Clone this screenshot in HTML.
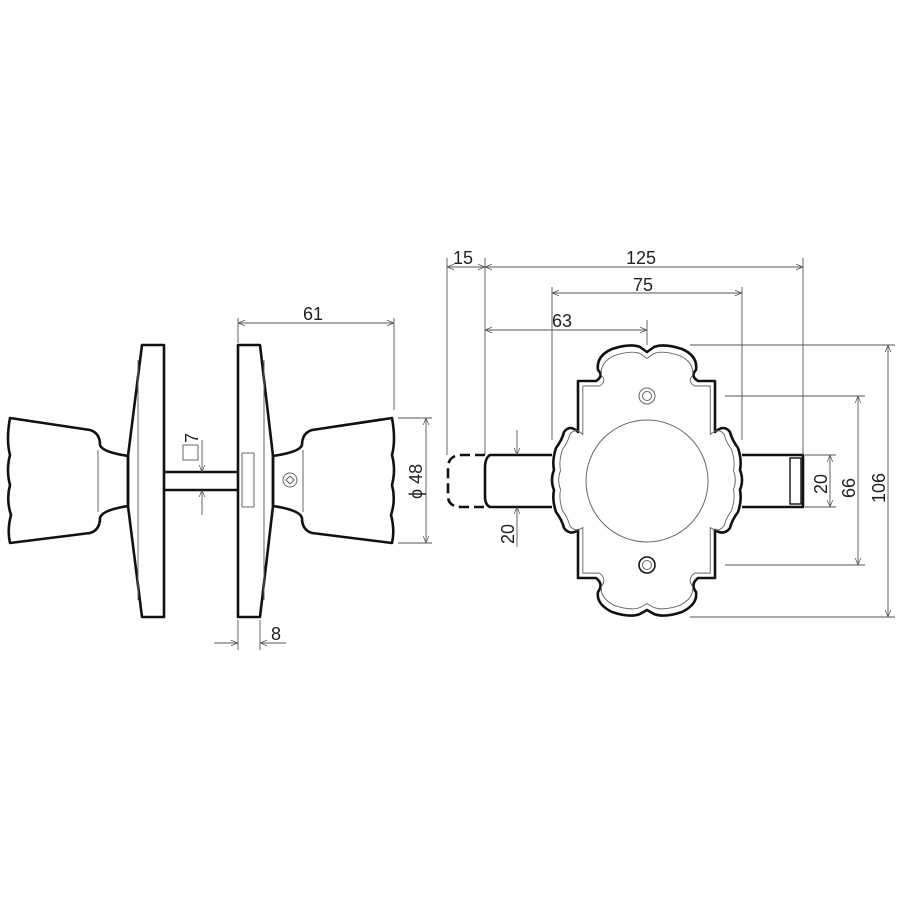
<!DOCTYPE html>
<html><head><style>html,body{margin:0;padding:0;background:#fff}svg{display:block}</style></head><body>
<svg width="900" height="900" viewBox="0 0 900 900" xmlns="http://www.w3.org/2000/svg" font-family="Liberation Sans, sans-serif">
<defs>
<marker id="a" viewBox="0 0 10 10" refX="10" refY="5" markerWidth="8" markerHeight="8" orient="auto-start-reverse"><path d="M0,1 L10,5 L0,9" fill="none" stroke="#555" stroke-width="1"/></marker>
</defs>
<rect width="900" height="900" fill="#fff"/>
<g fill="none" stroke="#111" stroke-width="2.6" stroke-linejoin="round">
  <path d="M10,418 L90,430 Q100,433 100,445 Q102,452 128,456 L128,506 Q102,510 100,518 Q100,530 90,533 L10,543 Q7,530 11,515 Q6,500 10,485 Q6,470 10,455 Q6,440 10,418 Z"/>
  <path d="M142,345 L164,345 L164,617 L142,617 L128,506 L128,456 Z"/>
  <path d="M238,345 L260,345 L273,456 L273,506 L260,617 L238,617 Z"/>
  <path d="M392,418 L312,430 Q302,433 302,445 Q300,452 273,456 L273,506 Q300,510 302,518 Q302,530 312,533 L392,543 Q395,530 391,515 Q396,500 392,485 Q396,470 392,455 Q396,440 392,418 Z"/>
  <path d="M164,472 L238,472 M164,490 L238,490"/>
</g>
<g fill="none" stroke="#666" stroke-width="1">
  <line x1="138" y1="360" x2="138" y2="600"/>
  <line x1="98" y1="450" x2="98" y2="512"/>
  <line x1="264" y1="360" x2="264" y2="600"/>
  <line x1="303" y1="450" x2="303" y2="512"/>
  <rect x="242" y="453" width="12" height="54"/>
  <circle cx="290" cy="480" r="7"/>
  <path d="M290,476 L294,480 L290,484 L286,480 Z"/>
  <rect x="183" y="445" width="15" height="15"/>
</g>
<g stroke="#555" stroke-width="0.9" fill="none">
  <line x1="238" y1="343" x2="238" y2="318"/>
  <line x1="394" y1="410" x2="394" y2="318"/>
  <line x1="238" y1="323" x2="394" y2="323" marker-start="url(#a)" marker-end="url(#a)"/>
  <line x1="398" y1="418" x2="432" y2="418"/>
  <line x1="398" y1="543" x2="432" y2="543"/>
  <line x1="426" y1="418" x2="426" y2="543" marker-start="url(#a)" marker-end="url(#a)"/>
  <line x1="202" y1="440" x2="202" y2="472" marker-end="url(#a)"/>
  <line x1="202" y1="515" x2="202" y2="490" marker-end="url(#a)"/>
  <line x1="238" y1="620" x2="238" y2="650"/>
  <line x1="260" y1="620" x2="260" y2="650"/>
  <line x1="214" y1="643" x2="238" y2="643" marker-end="url(#a)"/>
  <line x1="286" y1="643" x2="260" y2="643" marker-end="url(#a)"/>
</g>
<g fill="#222" font-size="18">
  <text x="303" y="320">61</text>
  <text x="271" y="640">8</text>
  <text transform="translate(198,443) rotate(-90)">7</text>
  <text transform="translate(422,499) rotate(-90)">ϕ 48</text>
</g>
<g fill="none" stroke="#111" stroke-width="2.6" stroke-linejoin="round">
  <path d="M578,381 L596,381 Q604,376 598,370 Q596,356 612,349 Q630,343 640,347 L647,352 L654,347 Q664,343 682,349 Q698,356 696,370 Q690,376 698,381 L715,381 L715,432 Q724,424 730,432 Q732,440 738,448 Q742,460 740,470 Q744,480 740,490 Q742,500 738,512 Q732,520 730,528 Q724,536 715,530 L715,578 L698,578 Q690,584 696,592 Q698,604 682,612 Q664,618 654,614 L647,610 L640,614 Q630,618 612,612 Q596,604 598,592 Q604,584 596,578 L578,578 L578,530 Q570,536 564,528 Q562,520 556,512 Q552,500 554,490 Q550,480 554,470 Q552,460 556,448 Q562,440 564,432 Q570,424 578,432 Z"/>
  <path d="M552,455 L490,455 Q485,458 485,468 L485,496 Q485,505 490,507 L552,507"/>
  <path d="M742,455 L803,455 L803,507 L742,507"/>
  <path d="M485,455 L462,455 Q448,455 448,468 L448,496 Q448,507 462,507 L485,507" stroke-dasharray="10,5"/>
</g>
<g fill="none" stroke="#666" stroke-width="1">
  <path transform="translate(647,481) scale(0.93,0.95) translate(-647,-481)" d="M578,381 L596,381 Q604,376 598,370 Q596,356 612,349 Q630,343 640,347 L647,352 L654,347 Q664,343 682,349 Q698,356 696,370 Q690,376 698,381 L715,381 L715,432 Q724,424 730,432 Q732,440 738,448 Q742,460 740,470 Q744,480 740,490 Q742,500 738,512 Q732,520 730,528 Q724,536 715,530 L715,578 L698,578 Q690,584 696,592 Q698,604 682,612 Q664,618 654,614 L647,610 L640,614 Q630,618 612,612 Q596,604 598,592 Q604,584 596,578 L578,578 L578,530 Q570,536 564,528 Q562,520 556,512 Q552,500 554,490 Q550,480 554,470 Q552,460 556,448 Q562,440 564,432 Q570,424 578,432 Z"/>
  <circle cx="647" cy="481" r="61"/>
  <circle cx="647" cy="396" r="8"/><circle cx="647" cy="396" r="4.5"/>
  <circle cx="647" cy="565" r="8" stroke="#111" stroke-width="1.6"/><circle cx="647" cy="565" r="4.5"/>
  <rect x="790" y="458" width="11" height="46" stroke="#111" stroke-width="1.4"/>
</g>
<g stroke="#555" stroke-width="0.9" fill="none">
  <line x1="447" y1="258" x2="447" y2="455"/>
  <line x1="485" y1="258" x2="485" y2="455"/>
  <line x1="552" y1="287" x2="552" y2="440"/>
  <line x1="742" y1="287" x2="742" y2="440"/>
  <line x1="803" y1="258" x2="803" y2="455"/>
  <line x1="647" y1="320" x2="647" y2="345"/>
  <line x1="447" y1="267" x2="485" y2="267" marker-start="url(#a)" marker-end="url(#a)"/>
  <line x1="485" y1="267" x2="803" y2="267" marker-start="url(#a)" marker-end="url(#a)"/>
  <line x1="552" y1="293" x2="742" y2="293" marker-start="url(#a)" marker-end="url(#a)"/>
  <line x1="485" y1="330" x2="647" y2="330" marker-start="url(#a)" marker-end="url(#a)"/>
  <line x1="690" y1="345" x2="895" y2="345"/>
  <line x1="690" y1="617" x2="895" y2="617"/>
  <line x1="725" y1="396" x2="865" y2="396"/>
  <line x1="725" y1="565" x2="865" y2="565"/>
  <line x1="805" y1="455" x2="836" y2="455"/>
  <line x1="805" y1="507" x2="836" y2="507"/>
  <line x1="888" y1="345" x2="888" y2="617" marker-start="url(#a)" marker-end="url(#a)"/>
  <line x1="858" y1="396" x2="858" y2="565" marker-start="url(#a)" marker-end="url(#a)"/>
  <line x1="830" y1="455" x2="830" y2="507" marker-start="url(#a)" marker-end="url(#a)"/>
  <line x1="517" y1="430" x2="517" y2="455" marker-end="url(#a)"/>
  <line x1="517" y1="547" x2="517" y2="507" marker-end="url(#a)"/>
</g>
<g fill="#222" font-size="18">
  <text x="453" y="264">15</text>
  <text x="626" y="264">125</text>
  <text x="633" y="291">75</text>
  <text x="552" y="327">63</text>
  <text transform="translate(514,544) rotate(-90)">20</text>
  <text transform="translate(827,494) rotate(-90)">20</text>
  <text transform="translate(855,498) rotate(-90)">66</text>
  <text transform="translate(885,503) rotate(-90)">106</text>
</g>
</svg>
</body></html>
